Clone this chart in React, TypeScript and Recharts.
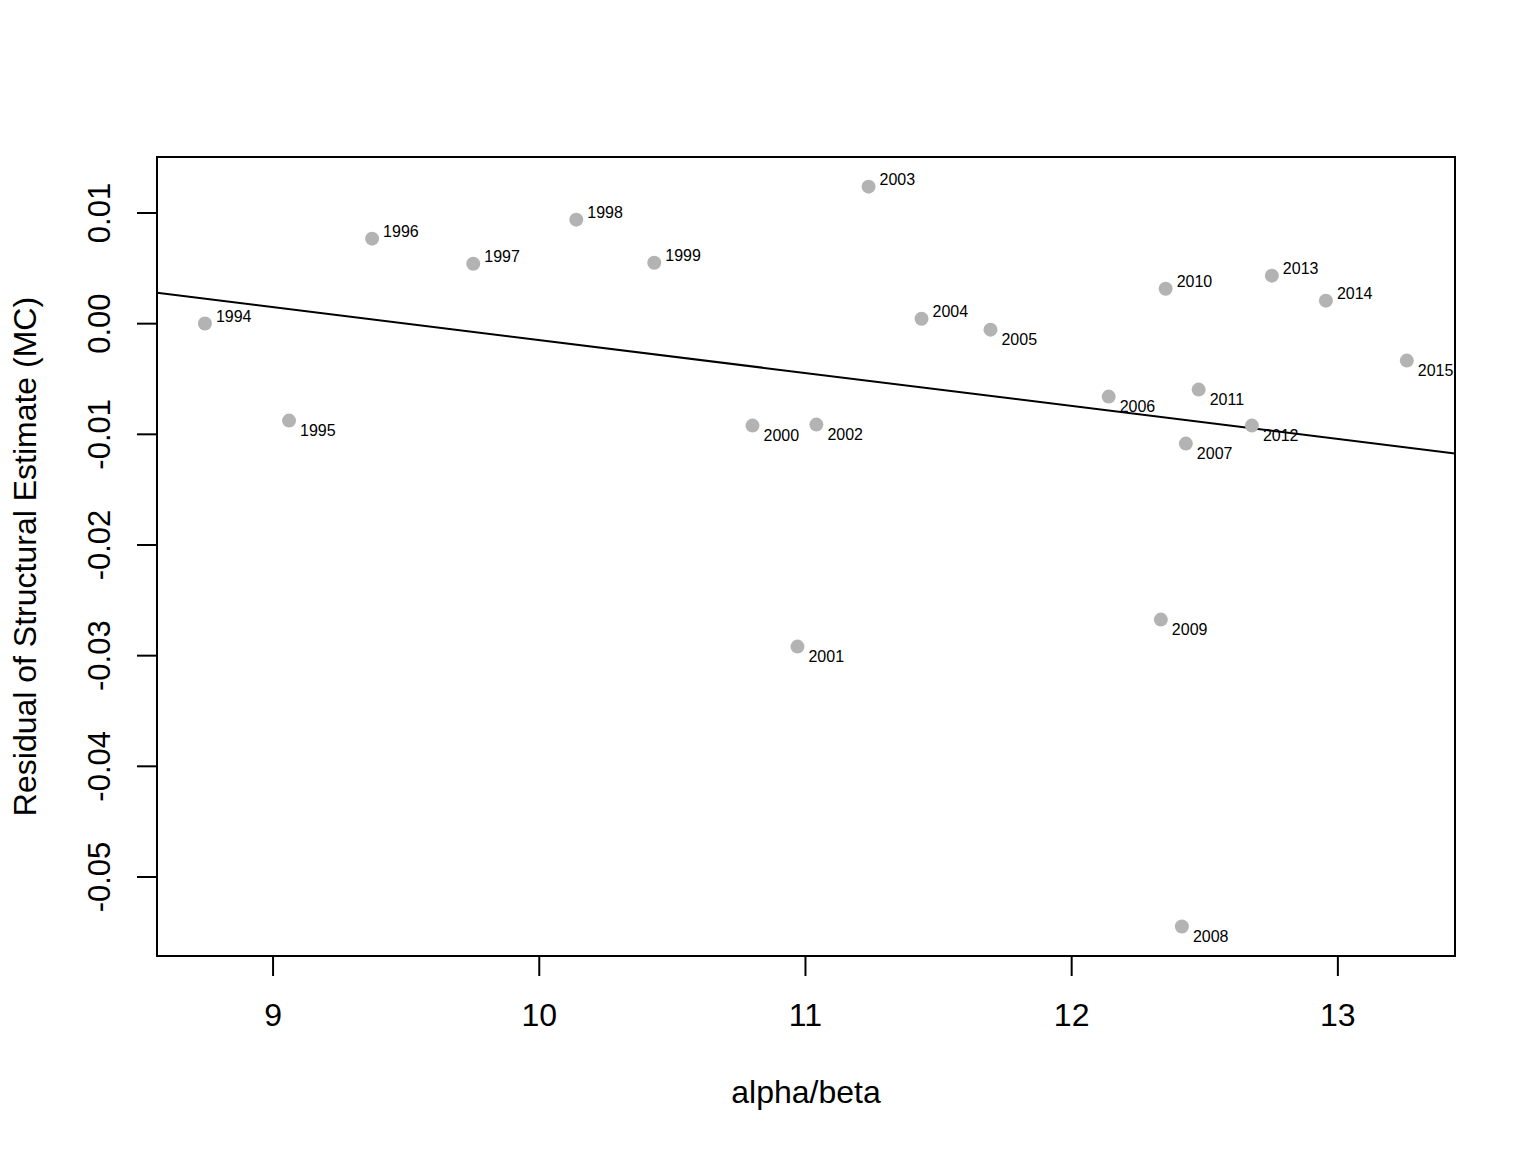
import React from "react"
import { ScatterChart, Scatter, XAxis, YAxis, ReferenceLine, ReferenceArea, Label } from "recharts"

// residuals by year
const years = [1994, 1995, 1996, 1997, 1998, 1999, 2000, 2001, 2002, 2003, 2004, 2005, 2006, 2007, 2008, 2009, 2010, 2011, 2012, 2013, 2014, 2015]
const alphaBeta = [8.744, 9.06, 9.372, 9.752, 10.139, 10.432, 10.801, 10.97, 11.041, 11.237, 11.436, 11.695, 12.139, 12.429, 12.414, 12.335, 12.353, 12.477, 12.677, 12.752, 12.955, 13.259]
const residual = [0.00002, -0.00876, 0.00768, 0.00542, 0.0094, 0.00551, -0.00921, -0.02918, -0.00912, 0.01238, 0.00045, -0.00054, -0.00659, -0.01084, -0.05447, -0.02674, 0.00316, -0.00596, -0.00921, 0.00434, 0.00208, -0.00334]

const xTicks = [9, 10, 11, 12, 13]
const yTicks = [-0.05, -0.04, -0.03, -0.02, -0.01, 0, 0.01]

// fitted line (abline)
const fitIntercept = 0.02832
const fitSlope = -0.00298

const xDomain: [number, number] = [8.564, 13.44]
const yDomain: [number, number] = [-0.05714, 0.01506]

const data = years.map((year, i) => ({ year, x: alphaBeta[i], y: residual[i] }))

const FONT = '"Liberation Sans", Arial, Helvetica, sans-serif'

const PointWithLabel = (props: any) => {
    const { cx, cy, payload } = props
    const above = payload.y >= 0
    return (
        <g>
            <circle cx={cx} cy={cy} r={7} fill="#B3B3B3" />
            <text
                x={cx + 11}
                y={above ? cy - 7 : cy + 10}
                fontSize={16}
                fontFamily={FONT}
                fill="#000"
                dominantBaseline="central"
            >
                {payload.year}
            </text>
        </g>
    )
}

const XTick = ({ x, y, payload }: any) => (
    <text x={x} y={y + 37} textAnchor="middle" dominantBaseline="central" fontSize={32} fontFamily={FONT} fill="#000">
        {payload.value}
    </text>
)

const YTick = ({ x, y, payload }: any) => (
    <text
        x={x - 35}
        y={y}
        textAnchor="middle"
        dominantBaseline="central"
        fontSize={31}
        fontFamily={FONT}
        fill="#000"
        transform={`rotate(-90, ${x - 35}, ${y})`}
    >
        {Number(payload.value).toFixed(2)}
    </text>
)

const XTitle = ({ viewBox }: any) => (
    <text x={viewBox.x + viewBox.width / 2} y={viewBox.y + 136} textAnchor="middle" dominantBaseline="central" fontSize={32} fontFamily={FONT} fill="#000">
        alpha/beta
    </text>
)

const YTitle = ({ viewBox }: any) => {
    const cx = viewBox.x + 17
    const cy = viewBox.y + viewBox.height / 2
    return (
        <text x={cx} y={cy} textAnchor="middle" dominantBaseline="central" fontSize={32} fontFamily={FONT} fill="#000" transform={`rotate(-90, ${cx}, ${cy})`}>
            Residual of Structural Estimate (MC)
        </text>
    )
}

export default function App() {
    return (
        <div style={{ width: 1520, height: 1136, background: "#fff" }}>
            <ScatterChart width={1520} height={1136} margin={{ top: 149, right: 73, bottom: 0, left: 0 }}>
                <XAxis
                    type="number"
                    dataKey="x"
                    domain={xDomain}
                    allowDataOverflow
                    ticks={xTicks}
                    height={188}
                    axisLine={false}
                    tickLine={{ stroke: "#000", strokeWidth: 2 }}
                    tickSize={20}
                    tick={<XTick />}
                >
                    <Label content={<XTitle />} />
                </XAxis>
                <YAxis
                    type="number"
                    dataKey="y"
                    domain={yDomain}
                    allowDataOverflow
                    ticks={yTicks}
                    width={149}
                    axisLine={false}
                    tickLine={{ stroke: "#000", strokeWidth: 2 }}
                    tickSize={20}
                    tick={<YTick />}
                >
                    <Label content={<YTitle />} />
                </YAxis>
                <ReferenceArea
                    x1={xDomain[0]}
                    x2={xDomain[1]}
                    y1={yDomain[0]}
                    y2={yDomain[1]}
                    fill="none"
                    fillOpacity={0}
                    stroke="#000"
                    strokeWidth={2}
                    ifOverflow="visible"
                />
                <Scatter data={data} shape={<PointWithLabel />} isAnimationActive={false} />
                <ReferenceLine
                    segment={[
                        { x: xDomain[0], y: fitIntercept + fitSlope * xDomain[0] },
                        { x: xDomain[1], y: fitIntercept + fitSlope * xDomain[1] },
                    ]}
                    stroke="#000"
                    strokeWidth={2}
                    ifOverflow="hidden"
                />
            </ScatterChart>
        </div>
    )
}
